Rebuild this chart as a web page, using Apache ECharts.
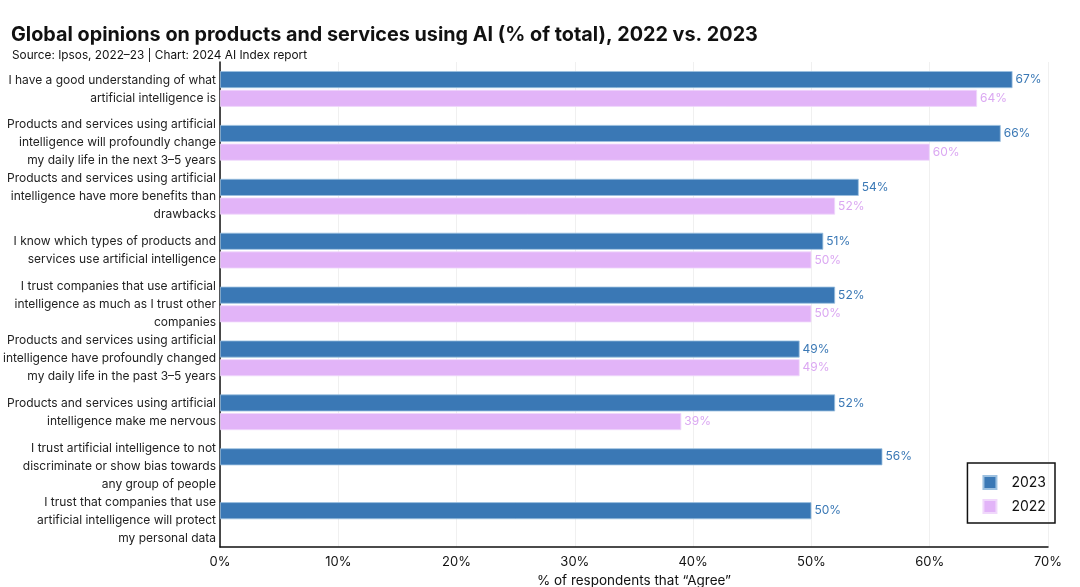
<!DOCTYPE html>
<html>
<head>
<meta charset="utf-8">
<script src="https://cdn.jsdelivr.net/npm/echarts@6/dist/echarts.min.js"></script>
<style>
html,body{margin:0;padding:0;background:#fff;}
#c{width:1080px;height:587px;}
</style>
</head>
<body>
<div id="c"></div>
<script>
const categories = [
  "I have a good understanding of what\nartificial intelligence is",
  "Products and services using artificial\nintelligence will profoundly change\nmy daily life in the next 3–5 years",
  "Products and services using artificial\nintelligence have more benefits than\ndrawbacks",
  "I know which types of products and\nservices use artificial intelligence",
  "I trust companies that use artificial\nintelligence as much as I trust other\ncompanies",
  "Products and services using artificial\nintelligence have profoundly changed\nmy daily life in the past 3–5 years",
  "Products and services using artificial\nintelligence make me nervous",
  "I trust artificial intelligence to not\ndiscriminate or show bias towards\nany group of people",
  "I trust that companies that use\nartificial intelligence will protect\nmy personal data"
];
const values2023 = [67, 66, 54, 51, 52, 49, 52, 56, 50];
const values2022 = [64, 60, 52, 50, 50, 49, 39, null, null];
const xTicks = [0, 10, 20, 30, 40, 50, 60, 70];

const FONT = 'Inter, "Noto Sans", sans-serif';
const BLUE = '#3a78b5';
const PINK = '#e2b4f8';

const chart = echarts.init(document.getElementById('c'), null, {renderer: 'canvas'});
chart.setOption({
  animation: false,
  textStyle: {fontFamily: FONT},
  title: [
    {text: 'Global opinions on products and services using AI (% of total), 2022 vs. 2023',
     left: 6, top: 20,
     textStyle: {fontFamily: FONT, fontSize: 19.8, fontWeight: 'bold', color: '#111'}},
    {text: 'Source: Ipsos, 2022–23 | Chart: 2024 AI Index report',
     left: 7, top: 44,
     textStyle: {fontFamily: FONT, fontSize: 11.8, fontWeight: 'normal', color: '#111'}}
  ],
  grid: {left: 220, right: 32, top: 62, bottom: 40, containLabel: false, outerBoundsMode: 'none'},
  legend: {
    data: ['2023', '2022'],
    orient: 'vertical',
    right: 25, top: 463,
    padding: [12, 9, 9, 15],
    itemGap: 9,
    itemWidth: 13, itemHeight: 13,
    icon: 'rect',
    borderColor: '#111', borderWidth: 1.5,
    textStyle: {fontFamily: FONT, fontSize: 14, color: '#111', padding: [0, 0, 0, 10]}
  },
  xAxis: {
    type: 'value', min: 0, max: 70, interval: 10,
    name: '% of respondents that “Agree”',
    nameLocation: 'middle', nameGap: 26,
    nameTextStyle: {fontFamily: FONT, fontSize: 13.5, color: '#111'},
    axisLine: {show: true, lineStyle: {color: '#111', width: 1.5}},
    axisTick: {show: false},
    axisLabel: {fontFamily: FONT, fontSize: 13, color: '#111', margin: 9,
      formatter: v => xTicks.includes(v) ? v + '%' : ''},
    splitLine: {show: true, lineStyle: {color: '#f0f0f0', width: 1}}
  },
  yAxis: {
    type: 'category', data: categories, inverse: true,
    axisLine: {show: true, onZero: false, lineStyle: {color: '#111', width: 1.5}},
    axisTick: {show: false},
    axisLabel: {interval: 0, hideOverlap: false, fontFamily: FONT, fontSize: 12, color: '#222', lineHeight: 18, margin: 4, align: 'right'},
    splitLine: {show: false}
  },
  series: [
    {name: '2023', type: 'bar', data: values2023, barWidth: 17, barGap: '10%',
     itemStyle: {color: BLUE, borderColor: '#9cc0e0', borderWidth: 0.8},
     label: {show: true, position: 'right', distance: 3, formatter: '{c}%',
       fontFamily: FONT, fontSize: 12, color: BLUE}},
    {name: '2022', type: 'bar', data: values2022, barWidth: 17,
     itemStyle: {color: PINK, borderColor: '#f0d8fb', borderWidth: 0.8},
     label: {show: true, position: 'right', distance: 3, formatter: '{c}%',
       fontFamily: FONT, fontSize: 12, color: '#dba8f2'}}
  ]
});
</script>
</body>
</html>
